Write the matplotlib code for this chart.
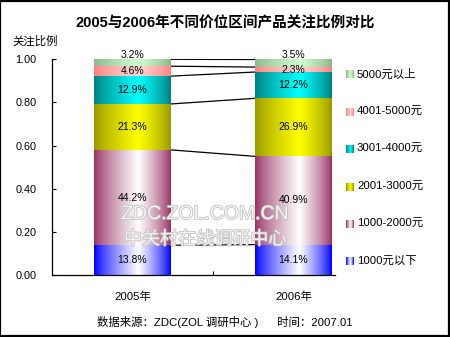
import matplotlib
matplotlib.use("Agg")
import matplotlib.pyplot as plt
import numpy as np
from matplotlib.patches import Rectangle
import matplotlib.patheffects as pe

plt.rcParams['font.family'] = ['Liberation Sans', 'Noto Sans CJK SC', 'DejaVu Sans']

years = ["2005年", "2006年"]
series = ["1000元以下", "1000-2000元", "2001-3000元", "3001-4000元", "4001-5000元", "5000元以上"]
values_2005 = [13.8, 44.2, 21.3, 12.9, 4.6, 3.2]
values_2006 = [14.1, 40.9, 26.9, 12.2, 2.3, 3.5]
yticks = [0.0, 0.2, 0.4, 0.6, 0.8, 1.0]

# (edge colour, centre colour) for horizontal gradients
grad_colors = [
    ((0, 0, 255), (255, 255, 255)),
    ((153, 51, 102), (255, 255, 255)),
    ((153, 153, 0), (255, 255, 0)),
    ((0, 128, 128), (0, 255, 255)),
    ((255, 128, 128), (255, 215, 215)),
    ((140, 180, 140), (210, 255, 210)),
]

def gradient(edge, centre, n=64, peak=0.58):
    e = np.array(edge) / 255.0
    c = np.array(centre) / 255.0
    t = np.linspace(0, 1, n)
    w = np.where(t < peak, t / peak, (1 - t) / (1 - peak))
    w = np.clip(w, 0, 1) ** 0.8
    arr = e[None, :] * (1 - w[:, None]) + c[None, :] * w[:, None]
    return arr[None, :, :]

W, H = 450, 337
fig = plt.figure(figsize=(W / 100, H / 100), dpi=100)
ax = fig.add_axes([52 / W, 1 - 275 / H, (335 - 52) / W, (275 - 59.3) / H])

bar_w = 0.478
data = [np.array(values_2005) / 100.0, np.array(values_2006) / 100.0]
tops_all = []
for xi, vals in enumerate(data):
    bottom = 0.0
    tops = [0.0]
    for si, v in enumerate(vals):
        top = bottom + v
        ax.imshow(gradient(*grad_colors[si]), extent=[xi - bar_w / 2, xi + bar_w / 2, bottom, top],
                  aspect='auto', zorder=2, interpolation='bilinear')
        if si == len(vals) - 1:
            ax.text(xi, top + 0.022, f"{v*100:.1f}%", ha='center', va='center', fontsize=7.5, zorder=5)
        else:
            ax.text(xi, (bottom + top) / 2, f"{v*100:.1f}%", ha='center', va='center', fontsize=7.5, zorder=5)
        bottom = top
        tops.append(top)
    tops_all.append(tops)

# connector lines between bars
for a, b in zip(tops_all[0][1:], tops_all[1][1:]):
    ax.plot([0 + bar_w / 2, 1 - bar_w / 2], [a, b], color='black', lw=0.9, zorder=1)

ax.set_xlim(-0.5, 1.258)
ax.set_ylim(0, 1.0)
ax.set_yticks(yticks)
ax.set_yticklabels([f"{t:.2f}" for t in yticks], fontsize=7.8)
ax.tick_params(axis='y', direction='in', length=3, pad=11, width=0.8)
ax.set_xticks([0, 1])
ax.set_xticklabels(years, fontsize=8.2)
ax.tick_params(axis='x', which='major', length=0, pad=12)
ax.set_xticks([0.5], minor=True)
ax.tick_params(axis='x', which='minor', direction='in', length=3, width=0.8)
for s in ['top', 'right']:
    ax.spines[s].set_visible(False)
for s in ['left', 'bottom']:
    ax.spines[s].set_linewidth(0.9)

# watermark
wm_eff = [pe.withStroke(linewidth=1.1, foreground='#bdbdbd')]
ax.text(0.45, 0.28, "ZDC.ZOL.COM.CN", ha='center', va='center', fontsize=14,
        color='#f4f4f4', zorder=6, path_effects=wm_eff)
ax.text(0.45, 0.163, "中关村在线调研中心", ha='center', va='center', fontsize=13,
        color='#f4f4f4', zorder=6, path_effects=wm_eff)

# title and labels
fig.text(0.5, 1 - 23 / H, "2005与2006年不同价位区间产品关注比例对比", ha='center', va='center',
         fontsize=10.5, fontweight='bold')
fig.text(12 / W, 1 - 41 / H, "关注比例", ha='left', va='center', fontsize=8.2)
fig.text(225 / W, 1 - 322 / H, "数据来源：ZDC(ZOL 调研中心 )      时间：2007.01", ha='center',
         va='center', fontsize=8.2)

# legend (manual, top to bottom)
leg_y = [74, 112, 149, 187, 224, 261]
for i, y in enumerate(leg_y):
    si = len(series) - 1 - i
    lax = fig.add_axes([346 / W, 1 - (y + 4) / H, 8 / W, 8 / H])
    lax.imshow(gradient(*grad_colors[si], n=16), aspect='auto', extent=[0, 1, 0, 1], interpolation='bilinear')
    lax.axis('off')
    fig.text(357 / W, 1 - y / H, series[si], ha='left', va='center', fontsize=8.2)

# outer frame
fig.patches.append(Rectangle((0.001, 0.002), 0.997, 0.996, transform=fig.transFigure,
                             fill=False, edgecolor='black', lw=1.6))

fig.savefig("out.png", dpi=100)
